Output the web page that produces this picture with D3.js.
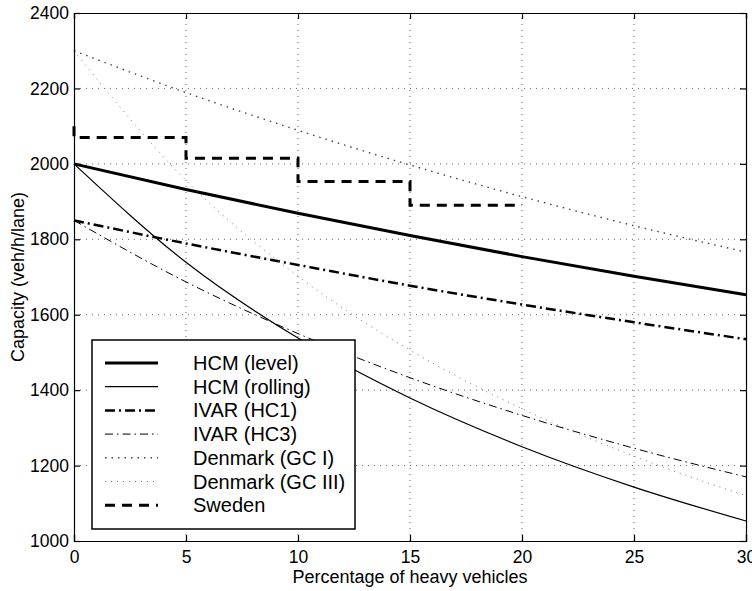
<!DOCTYPE html>
<html lang="en">
<head>
<meta charset="UTF-8">
<title>Capacity vs heavy vehicles</title>
<script src="https://d3js.org/d3.v7.min.js"></script>
<style>
    body{
        margin: 0;
        background: #fff;
        font-family: "Liberation Sans", Arial, Helvetica, sans-serif;
    }
    svg text{
        fill: #000;
    }
</style>
</head>
<body>
<div id="chart"></div>
<script>
    // values
    const pct = [0, 5, 10, 15, 20, 25, 30];
    const hcmLevel   = [2000, 1932, 1869, 1810, 1754, 1702, 1653];
    const hcmRolling = [2000, 1739, 1538, 1379, 1250, 1143, 1053];
    const ivarHC1    = [1850, 1789, 1732, 1677, 1627, 1580, 1535];
    const ivarHC3    = [1850, 1687, 1550, 1433, 1333, 1246, 1170];
    const denmarkGC1 = [2300, 2189, 2089, 1997, 1913, 1836, 1766];
    const denmarkGC3 = [2300, 1956, 1702, 1506, 1351, 1225, 1120];
    const swedenX = [0, 0, 5, 5, 10, 10, 15, 15, 20];
    const swedenY = [2100, 2070, 2070, 2015, 2015, 1953, 1953, 1890, 1890];

    const xTicks = [0, 5, 10, 15, 20, 25, 30];
    const yTicks = [1000, 1200, 1400, 1600, 1800, 2000, 2200, 2400];

    const seriesNames = ["HCM (level)", "HCM (rolling)", "IVAR (HC1)", "IVAR (HC3)",
                         "Denmark (GC I)", "Denmark (GC III)", "Sweden"];

    const w = 752, h = 591;
    const m = {left: 74, top: 13, right: 6, bottom: 50};

    const x = d3.scaleLinear().domain([0, 30]).range([m.left, w - m.right]);
    const y = d3.scaleLinear().domain([1000, 2400]).range([h - m.bottom, m.top]);

    const svg = d3.select("#chart").append("svg")
        .attr("width", w)
        .attr("height", h);

    // dotted grid
    const grid = svg.append("g");
    grid.selectAll(".vg").data(xTicks.slice(1, -1)).enter().append("line")
        .attr("x1", d => x(d)).attr("x2", d => x(d))
        .attr("y1", y(1000)).attr("y2", y(2400))
        .attr("stroke", "#666").attr("stroke-width", 1)
        .attr("stroke-dasharray", "1,5");
    grid.selectAll(".hg").data(yTicks.slice(1, -1)).enter().append("line")
        .attr("y1", d => y(d)).attr("y2", d => y(d))
        .attr("x1", x(0)).attr("x2", x(30))
        .attr("stroke", "#666").attr("stroke-width", 1)
        .attr("stroke-dasharray", "1,5");

    // styles for every series
    const styles = [
        {w: 3,   dash: null,         c: "#000"},
        {w: 1.2, dash: null,         c: "#000"},
        {w: 2.5, dash: "10,4,2,4",   c: "#000"},
        {w: 1,   dash: "8,4,1.5,4",  c: "#000"},
        {w: 1.4, dash: "1.5,5",      c: "#444"},
        {w: 1,   dash: "1,5",        c: "#777"},
        {w: 3,   dash: "10,7",       c: "#000"}
    ];

    const curveSeries = [hcmLevel, hcmRolling, ivarHC1, ivarHC3, denmarkGC1, denmarkGC3];
    const line = d3.line()
        .x(d => x(d[0]))
        .y(d => y(d[1]))
        .curve(d3.curveMonotoneX);
    const stepLine = d3.line()
        .x(d => x(d[0]))
        .y(d => y(d[1]));

    const plot = svg.append("g");
    curveSeries.forEach(function(vals, i){
        plot.append("path")
            .datum(pct.map((p, j) => [p, vals[j]]))
            .attr("d", line)
            .attr("fill", "none")
            .attr("stroke", styles[i].c)
            .attr("stroke-width", styles[i].w)
            .attr("stroke-dasharray", styles[i].dash);
    });
    plot.append("path")
        .datum(swedenX.map((p, j) => [p, swedenY[j]]))
        .attr("d", stepLine)
        .attr("fill", "none")
        .attr("stroke", styles[6].c)
        .attr("stroke-width", styles[6].w)
        .attr("stroke-dasharray", styles[6].dash);

    // axes, ticks inside, box round the plot
    const tickLen = 6;
    const xAxis = d3.axisBottom(x).tickValues(xTicks).tickSize(-tickLen).tickPadding(10).tickFormat(d3.format("d"));
    const yAxis = d3.axisLeft(y).tickValues(yTicks).tickSize(-tickLen).tickPadding(5).tickFormat(d3.format("d"));
    const xTop = d3.axisTop(x).tickValues(xTicks).tickSize(-tickLen).tickFormat("");
    const yRight = d3.axisRight(y).tickValues(yTicks).tickSize(-tickLen).tickFormat("");

    const gx = svg.append("g").attr("transform", "translate(0," + y(1000) + ")").call(xAxis);
    const gy = svg.append("g").attr("transform", "translate(" + x(0) + ",0)").call(yAxis);
    const gt = svg.append("g").attr("transform", "translate(0," + y(2400) + ")").call(xTop);
    const gr = svg.append("g").attr("transform", "translate(" + x(30) + ",0)").call(yRight);
    [gx, gy, gt, gr].forEach(function(g){
        g.selectAll("path").attr("stroke", "#000").attr("stroke-width", 1.2);
        g.selectAll(".tick line").attr("stroke", "#000").attr("stroke-width", 1.2);
        g.selectAll("text")
            .style("font-family", "'Liberation Sans', Arial, sans-serif")
            .style("font-size", "17.5px")
            .attr("fill", "#000");
    });

    // axis titles
    svg.append("text")
        .attr("x", (x(0) + x(30)) / 2)
        .attr("y", 583)
        .attr("text-anchor", "middle")
        .style("font-size", "18px")
        .text("Percentage of heavy vehicles");
    svg.append("text")
        .attr("transform", "translate(24," + ((y(1000) + y(2400)) / 2) + ") rotate(-90)")
        .attr("text-anchor", "middle")
        .style("font-size", "18px")
        .text("Capacity (veh/h/lane)");

    // legend
    const lg = svg.append("g");
    lg.append("rect")
        .attr("x", 92).attr("y", 340)
        .attr("width", 263).attr("height", 189)
        .attr("fill", "#fff")
        .attr("stroke", "#000")
        .attr("stroke-width", 1.5);
    seriesNames.forEach(function(name, i){
        const ly = 363 + i * 23.7;
        lg.append("line")
            .attr("x1", 105).attr("x2", 158)
            .attr("y1", ly).attr("y2", ly)
            .attr("stroke", styles[i].c)
            .attr("stroke-width", styles[i].w)
            .attr("stroke-dasharray", styles[i].dash);
        lg.append("text")
            .attr("x", 193).attr("y", ly)
            .attr("dy", "0.35em")
            .style("font-size", "20px")
            .text(name);
    });
</script>
</body>
</html>
